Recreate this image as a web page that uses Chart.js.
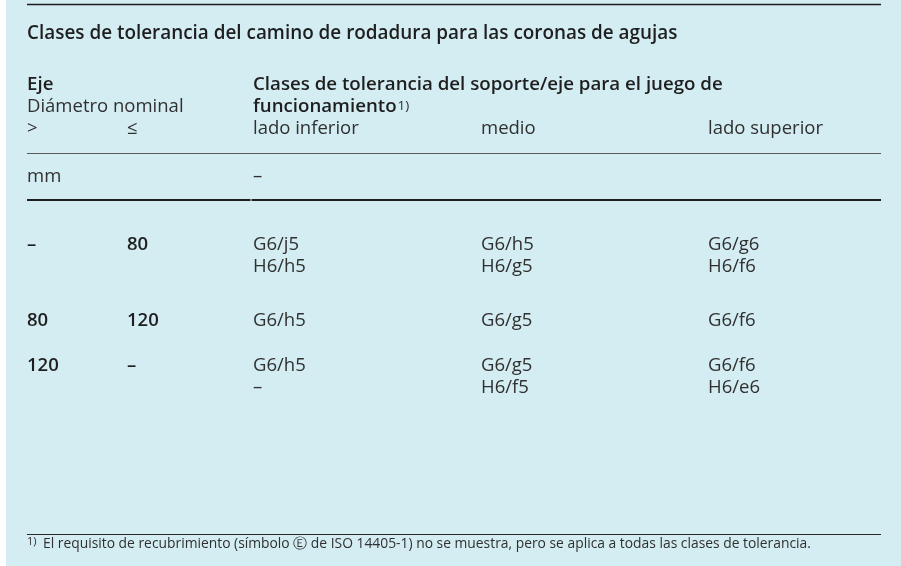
<!DOCTYPE html>
<html lang="es">
<head>
<meta charset="utf-8">
<title>Clases de tolerancia del camino de rodadura</title>
<script src="https://cdn.jsdelivr.net/npm/chart.js@4/dist/chart.umd.min.js"></script>
<style>
    html, body { margin: 0; padding: 0; background: #ffffff; }
    #tableChart { display: block; }
</style>
</head>
<body>
<canvas id="tableChart" width="901" height="566"></canvas>
<script>
var titleText = 'Clases de tolerancia del camino de rodadura para las coronas de agujas';
var axisHead = ['Eje', 'Diámetro nominal'];
var classHead = ['Clases de tolerancia del soporte/eje para el juego de', 'funcionamiento'];
var columnLabels = ['>', '≤', 'lado inferior', 'medio', 'lado superior'];
var unitLabels = ['mm', '–'];
var diamFrom = ['–', '80', '120'];
var diamTo = ['80', '120', '–'];
var lowerSide = [['G6/j5', 'H6/h5'], ['G6/h5'], ['G6/h5', '–']];
var middle = [['G6/h5', 'H6/g5'], ['G6/g5'], ['G6/g5', 'H6/f5']];
var upperSide = [['G6/g6', 'H6/f6'], ['G6/f6'], ['G6/f6', 'H6/e6']];
var footnoteMark = '1)';
var footnoteText = 'El requisito de recubrimiento (símbolo Ⓔ de ISO 14405-1) no se muestra, pero se aplica a todas las clases de tolerancia.';

(function () {
    'use strict';

    /* ===== Layout (scale units, kept apart from the data) ===== */
    var COL_X = [0, 100, 226, 454, 681];          // column starts on the x scale
    var ROW_Y = [[245, 267], [321], [366, 388]];  // text line centres per body row
    var Y = { title: 34, head1: 85, head2: 107, head3: 129, unit: 177, foot: 544 };
    var RULES = [
        { y: 4, w: 1.5, c: '#1e1e1e' },
        { y: 153, w: 1, c: '#5a5a5a' },
        { y: 200, w: 2, c: '#1e1e1e', split: 224 },
        { y: 534, w: 1.2, c: '#2a2a2a' }
    ];

    var FONT = "'Open Sans', 'Noto Sans', 'DejaVu Sans', sans-serif";
    var TEXT = '#303030';
    var BOLD = '#1e1e1e';
    var BG = '#d4edf2';
    var SIZE = { title: 18.9, head: 18.7, body: 18.5, foot: 13.85 };

    function bodyPoints(values, col) {
        var pts = [];
        values.forEach(function (lines, r) {
            lines.forEach(function (t, l) {
                pts.push({ x: COL_X[col], y: ROW_Y[r][l], t: t });
            });
        });
        return pts;
    }

    function singlePoints(values, col, bold) {
        return values.map(function (t, r) {
            return { x: COL_X[col], y: ROW_Y[r][0], t: t, bold: bold };
        });
    }

    function cellDataset(label, points) {
        return {
            label: label,
            data: points,
            pointRadius: 0,
            pointHoverRadius: 0,
            showLine: false
        };
    }

    var datasets = [
        cellDataset('from', singlePoints(diamFrom, 0, true)),
        cellDataset('to', singlePoints(diamTo, 1, true)),
        cellDataset('lower', bodyPoints(lowerSide, 2)),
        cellDataset('middle', bodyPoints(middle, 3)),
        cellDataset('upper', bodyPoints(upperSide, 4))
    ];

    /* ===== Plugin: panel background ===== */
    var panelPlugin = {
        id: 'panel',
        beforeDraw: function (chart) {
            var ctx = chart.ctx;
            ctx.save();
            ctx.fillStyle = BG;
            ctx.fillRect(6, 0, chart.width - 6, chart.height);
            ctx.restore();
        }
    };

    function put(ctx, text, x, y, size, bold, color) {
        ctx.font = (bold ? '600 ' : '400 ') + size + 'px ' + FONT;
        ctx.fillStyle = color || (bold ? BOLD : TEXT);
        ctx.fillText(text, x, y);
        return ctx.measureText(text).width;
    }

    /* ===== Plugin: rules, headers, footnote, cell texts ===== */
    var tablePlugin = {
        id: 'tableText',
        afterDatasetsDraw: function (chart) {
            var ctx = chart.ctx;
            var xs = chart.scales.x;
            var ys = chart.scales.y;
            var px = function (c) { return xs.getPixelForValue(COL_X[c]); };

            ctx.save();

            // horizontal rules
            RULES.forEach(function (r) {
                var y = Math.round(ys.getPixelForValue(r.y)) + (r.w % 2 ? 0.5 : 0);
                ctx.strokeStyle = r.c;
                ctx.lineWidth = r.w;
                ctx.beginPath();
                if (r.split) {
                    ctx.moveTo(xs.left, y);
                    ctx.lineTo(xs.getPixelForValue(r.split) - 0.5, y);
                    ctx.moveTo(xs.getPixelForValue(r.split) + 0.5, y);
                } else {
                    ctx.moveTo(xs.left, y);
                }
                ctx.lineTo(xs.right, y);
                ctx.stroke();
            });

            ctx.textBaseline = 'middle';
            ctx.textAlign = 'left';

            // title + header block
            put(ctx, titleText, px(0), ys.getPixelForValue(Y.title), SIZE.title, true);
            put(ctx, axisHead[0], px(0), ys.getPixelForValue(Y.head1), SIZE.head, true);
            put(ctx, axisHead[1], px(0), ys.getPixelForValue(Y.head2), SIZE.body, false);
            put(ctx, classHead[0], px(2), ys.getPixelForValue(Y.head1), SIZE.head, true);
            var w = put(ctx, classHead[1], px(2), ys.getPixelForValue(Y.head2), SIZE.head, true);
            put(ctx, footnoteMark, px(2) + w + 1, ys.getPixelForValue(Y.head2) - 1, 13.5, false);
            columnLabels.forEach(function (t, c) {
                put(ctx, t, px(c), ys.getPixelForValue(Y.head3), SIZE.body, false);
            });
            put(ctx, unitLabels[0], px(0), ys.getPixelForValue(Y.unit), SIZE.body, false);
            put(ctx, unitLabels[1], px(2), ys.getPixelForValue(Y.unit), SIZE.body, false);

            // body cells, placed by the scatter elements
            chart.data.datasets.forEach(function (ds, i) {
                var meta = chart.getDatasetMeta(i);
                meta.data.forEach(function (el, j) {
                    var p = ds.data[j];
                    put(ctx, p.t, el.x, el.y, SIZE.body, !!p.bold);
                });
            });

            // footnote
            var fy = ys.getPixelForValue(Y.foot);
            put(ctx, footnoteMark, px(0), fy - 2, 11, false);
            put(ctx, footnoteText, px(0) + 16, fy, SIZE.foot, false);

            ctx.restore();
        }
    };

    function init() {
        var el = document.getElementById('tableChart');
        if (!el) return;
        new Chart(el, {
            type: 'scatter',
            data: { datasets: datasets },
            options: {
                responsive: false,
                animation: false,
                events: [],
                layout: { padding: { left: 27, right: 20, top: 0, bottom: 0 } },
                plugins: {
                    legend: { display: false },
                    tooltip: { enabled: false }
                },
                scales: {
                    x: { type: 'linear', display: false, min: 0, max: 854 },
                    y: { type: 'linear', display: false, min: 0, max: 566, reverse: true }
                }
            },
            plugins: [panelPlugin, tablePlugin]
        });
    }

    if (document.readyState === 'loading') {
        document.addEventListener('DOMContentLoaded', init);
    } else {
        init();
    }
})();
</script>
</body>
</html>
